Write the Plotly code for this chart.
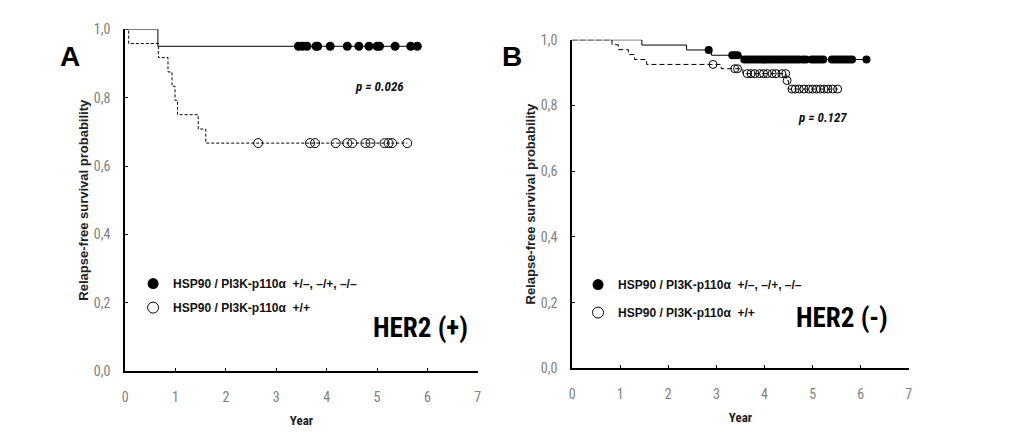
import plotly.graph_objects as go
import numpy as np

# ---------------- data ----------------
# Panel A, HER2(+)
A_other_times = [0.0, 0.65]
A_other_surv = [1.0, 0.95]
A_other_cens = [3.44, 3.52, 3.61, 3.79, 3.82, 4.07, 4.41, 4.64, 4.84, 5.00, 5.05, 5.36, 5.67, 5.80]

A_pp_times = [0.0, 0.07, 0.66, 0.85, 0.93, 0.99, 1.04, 1.45, 1.60]
A_pp_surv = [1.0, 0.958, 0.917, 0.875, 0.833, 0.792, 0.75, 0.708, 0.667]
A_pp_cens = [2.64, 3.67, 3.77, 4.18, 4.41, 4.51, 4.77, 4.87, 5.15, 5.23, 5.30, 5.60]

# Panel B, HER2(-)
B_other_times = [0.0, 1.45, 2.38, 2.90, 3.52]
B_other_surv = [1.0, 0.984, 0.969, 0.953, 0.94]
B_other_cens = [2.84, 3.33, 3.38, 3.44, 3.58, 3.64, 3.70, 3.76, 3.82, 3.88, 3.94, 4.00,
                4.06, 4.12, 4.18, 4.24, 4.30, 4.36, 4.42, 4.48, 4.54, 4.60, 4.66, 4.72,
                4.80, 4.86, 4.98, 5.04, 5.10, 5.16, 5.22, 5.40, 5.46, 5.52, 5.58, 5.64,
                5.70, 5.76, 5.82, 6.12]

B_pp_times = [0.0, 0.83, 0.96, 1.17, 1.30, 1.55, 3.10, 3.55, 4.45, 4.50]
B_pp_surv = [1.0, 0.985, 0.97, 0.955, 0.94, 0.925, 0.912, 0.897, 0.876, 0.85]
B_pp_cens = [2.93, 3.38, 3.44, 3.64, 3.72, 3.80, 3.90, 3.98, 4.06, 4.16, 4.24, 4.36,
             4.44, 4.47, 4.57, 4.64, 4.72, 4.82, 4.92, 5.00, 5.08, 5.16, 5.24, 5.32,
             5.42, 5.52]

y_ticks = [0.0, 0.2, 0.4, 0.6, 0.8, 1.0]
y_tick_text = ["0,0", "0,2", "0,4", "0,6", "0,8", "1,0"]
x_ticks = [0, 1, 2, 3, 4, 5, 6, 7]

legend_other = "HSP90 / PI3K-p110α  +/–, –/+, –/–"
legend_pp = "HSP90 / PI3K-p110α  +/+"

# ---------------- helpers ----------------
def surv_at(times, surv, t):
    idx = np.searchsorted(np.array(times), t, side="right") - 1
    return [surv[i] for i in idx]

def step_xy(times, surv, end):
    return list(times) + [end], list(surv) + [surv[-1]]

FONT_NARROW = "Liberation Sans Narrow, Roboto Condensed, Liberation Sans, Arial"
FONT_SANS = "Liberation Sans, Arial"

fig = go.Figure()

def add_panel(times_o, surv_o, cens_o, times_p, surv_p, cens_p, xa, ya, legend, dash_p, msize):
    xo, yo = step_xy(times_o, surv_o, max(cens_o))
    fig.add_trace(go.Scatter(x=xo, y=yo, mode="lines", line=dict(color="black", width=1, shape="hv"),
                             xaxis=xa, yaxis=ya, showlegend=False, hoverinfo="skip"))
    xp, yp = step_xy(times_p, surv_p, max(cens_p))
    fig.add_trace(go.Scatter(x=xp, y=yp, mode="lines", line=dict(color="black", width=1, shape="hv", dash=dash_p),
                             xaxis=xa, yaxis=ya, showlegend=False, hoverinfo="skip"))
    fig.add_trace(go.Scatter(x=cens_o, y=surv_at(times_o, surv_o, cens_o), mode="markers",
                             marker=dict(symbol="circle", size=msize, color="black"),
                             xaxis=xa, yaxis=ya, showlegend=False, cliponaxis=False))
    fig.add_trace(go.Scatter(x=cens_p, y=surv_at(times_p, surv_p, cens_p), mode="markers",
                             marker=dict(symbol="circle-open", size=msize, color="black", line=dict(width=1)),
                             xaxis=xa, yaxis=ya, showlegend=False, cliponaxis=False))
    # legend entries
    fig.add_trace(go.Scatter(x=[None], y=[None], mode="markers", name=legend_other,
                             legendgroup=legend + "_o",
                             marker=dict(symbol="circle", size=11, color="black"),
                             xaxis=xa, yaxis=ya, legend=legend))
    fig.add_trace(go.Scatter(x=[None], y=[None], mode="markers", name=legend_pp,
                             legendgroup=legend + "_p",
                             marker=dict(symbol="circle-open", size=11, color="black", line=dict(width=1)),
                             xaxis=xa, yaxis=ya, legend=legend))

add_panel(A_other_times, A_other_surv, A_other_cens, A_pp_times, A_pp_surv, A_pp_cens,
          "x", "y", "legend", "3px,2px", 9)
add_panel(B_other_times, B_other_surv, B_other_cens, B_pp_times, B_pp_surv, B_pp_cens,
          "x2", "y2", "legend2", "5px,3px", 8)

W, H = 1029, 438
def px(xpx): return xpx / W
def py(ypx): return 1 - ypx / H

axis_common = dict(showline=True, linecolor="black", linewidth=2, showgrid=False, zeroline=False,
                   ticks="inside", ticklen=3, tickwidth=1, tickcolor="black",
                   tickfont=dict(family=FONT_NARROW, size=14, color="#808080"))

xtitle = dict(text="Year", font=dict(family=FONT_NARROW, size=13, color="#222", weight="bold"), standoff=12)
ytitle = dict(text="Relapse-free survival probability",
              font=dict(family=FONT_SANS, size=13, color="#222", weight="bold"), standoff=2)

legend_font = dict(family=FONT_SANS, size=12, color="#111", weight="bold")

fig.update_layout(
    width=W, height=H, margin=dict(l=0, r=0, t=0, b=0),
    paper_bgcolor="white", plot_bgcolor="white",
    xaxis=dict(domain=[px(123), px(478)], range=[0, 7], tickvals=x_ticks, anchor="y",
               ticklabelstandoff=12, title=xtitle, **axis_common),
    yaxis=dict(domain=[py(377), py(22)], range=[0, 1.0], tickvals=y_ticks, ticktext=y_tick_text, anchor="x",
               ticklabelstandoff=10, title=ytitle, **axis_common),
    xaxis2=dict(domain=[px(573), px(912)], range=[0, 7], tickvals=x_ticks, anchor="y2",
                ticklabelstandoff=12, title=xtitle, **axis_common),
    yaxis2=dict(domain=[py(374), py(33)], range=[0, 1.0], tickvals=y_ticks, ticktext=y_tick_text, anchor="x2",
                ticklabelstandoff=10, title=ytitle, **axis_common),
    legend=dict(x=px(131), y=py(271), xanchor="left", yanchor="top", bgcolor="rgba(0,0,0,0)",
                font=legend_font, itemwidth=30, tracegroupgap=5),
    legend2=dict(x=px(579), y=py(272), xanchor="left", yanchor="top", bgcolor="rgba(0,0,0,0)",
                 font=legend_font, itemwidth=30, tracegroupgap=9),
)

ann = []
ann.append(dict(text="A", x=px(55), y=py(32), xref="paper", yref="paper", showarrow=False,
                font=dict(family=FONT_SANS, size=28, color="black", weight="bold")))
ann.append(dict(text="B", x=px(512), y=py(32), xref="paper", yref="paper", showarrow=False,
                font=dict(family=FONT_SANS, size=28, color="black", weight="bold")))
ann.append(dict(text="<i>p = 0.026</i>", x=5.05, y=0.833, xref="x", yref="y", showarrow=False,
                font=dict(family=FONT_NARROW, size=13, color="#111", weight="bold")))
ann.append(dict(text="<i>p = 0.127</i>", x=5.2, y=0.762, xref="x2", yref="y2", showarrow=False,
                font=dict(family=FONT_NARROW, size=13, color="#111", weight="bold")))
ann.append(dict(text="HER2 (+)", x=6.85, y=0.127, xref="x", yref="y", xanchor="right", showarrow=False,
                font=dict(family=FONT_NARROW, size=27, color="black", weight="bold")))
ann.append(dict(text="HER2 (-)", x=6.6, y=0.153, xref="x2", yref="y2", xanchor="right", showarrow=False,
                font=dict(family=FONT_NARROW, size=27, color="black", weight="bold")))
fig.update_layout(annotations=ann)

fig.write_html("out.html")
